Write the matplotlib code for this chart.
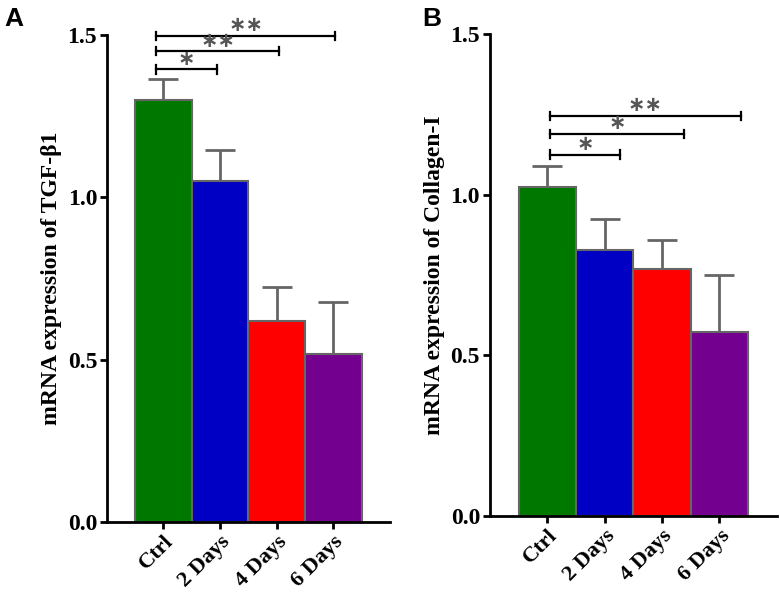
import numpy as np
import matplotlib
matplotlib.use("Agg")
import matplotlib.pyplot as plt

categories = ["Ctrl", "2 Days", "4 Days", "6 Days"]
colors = ["#007800", "#0000c4", "#ff0000", "#74008f"]

# panel A: TGF-beta1
tgf_mean = [1.30, 1.05, 0.62, 0.516]
tgf_err = [0.065, 0.097, 0.103, 0.162]
tgf_pairs = [(0, 1), (0, 2), (0, 3)]
tgf_bracket_y = [1.394, 1.45, 1.497]
tgf_stars = ["*", "**", "**"]

# panel B: Collagen-I
col_mean = [1.022, 0.826, 0.769, 0.573]
col_err = [0.068, 0.098, 0.091, 0.177]
col_pairs = [(0, 1), (0, 2), (0, 3)]
col_bracket_y = [1.124, 1.189, 1.245]
col_stars = ["*", "*", "**"]

serif = ["Liberation Serif", "DejaVu Serif"]


def panel(ax, mean, err, pairs, by, stars, ylabel, lo_off, hi_offs):
    x = np.arange(len(categories))
    ax.bar(x, mean, width=1.0, color=colors, edgecolor="#666666", linewidth=1.5, zorder=2)
    ax.errorbar(x, mean, yerr=[np.zeros(len(err)), err], fmt="none", ecolor="#666666",
                elinewidth=2, capsize=10.5, capthick=2, zorder=1)
    for (a, b), y, s, ho in zip(pairs, by, stars, hi_offs):
        x0, x1 = a + lo_off, b + ho
        ax.plot([x0, x1], [y, y], color="black", lw=1.6, clip_on=False)
        for xx in (x0, x1):
            ax.plot([xx, xx], [y - 0.013, y + 0.013], color="black", lw=1.6, clip_on=False)
        ax.text((x0 + x1) / 2, y + 0.002, s.replace("*", "\u2217"), ha="center", va="bottom",
                fontsize=15, color="#555555", fontweight="bold", clip_on=False)
    ax.set_xlim(-1, 4)
    ax.set_ylim(0, 1.5)
    ax.set_yticks([0.0, 0.5, 1.0, 1.5])
    ax.set_yticklabels(["0.0", "0.5", "1.0", "1.5"], fontsize=17, fontweight="bold", family=serif)
    ax.set_xticks(x)
    ax.set_xticklabels(categories, rotation=45, ha="right", rotation_mode="anchor",
                       fontsize=16, fontweight="bold", family=serif)
    ax.set_ylabel(ylabel, fontsize=17, fontweight="bold", family=serif, labelpad=4)
    for side in ("top", "right"):
        ax.spines[side].set_visible(False)
    for side in ("left", "bottom"):
        ax.spines[side].set_linewidth(2)
    ax.tick_params(direction="out", length=5, width=2, pad=2)


fig = plt.figure(figsize=(7.8, 5.93), dpi=100)
axA = fig.add_axes([0.137, 0.12, 0.363, 0.821])
axB = fig.add_axes([0.628, 0.13, 0.368, 0.813])

panel(axA, tgf_mean, tgf_err, tgf_pairs, tgf_bracket_y, tgf_stars,
      "mRNA expression of TGF-\u03b21", -0.13, [-0.06, 0.04, 0.03])
panel(axB, col_mean, col_err, col_pairs, col_bracket_y, col_stars,
      "mRNA expression of Collagen-I", 0.05, [0.26, 0.38, 0.37])

letter_font = ["Liberation Sans", "DejaVu Sans"]
fig.text(0.006, 0.988, "A", fontsize=19, fontweight="bold", family=letter_font, va="top", ha="left")
fig.text(0.541, 0.988, "B", fontsize=19, fontweight="bold", family=letter_font, va="top", ha="left")

fig.savefig("out.png", dpi=100)
